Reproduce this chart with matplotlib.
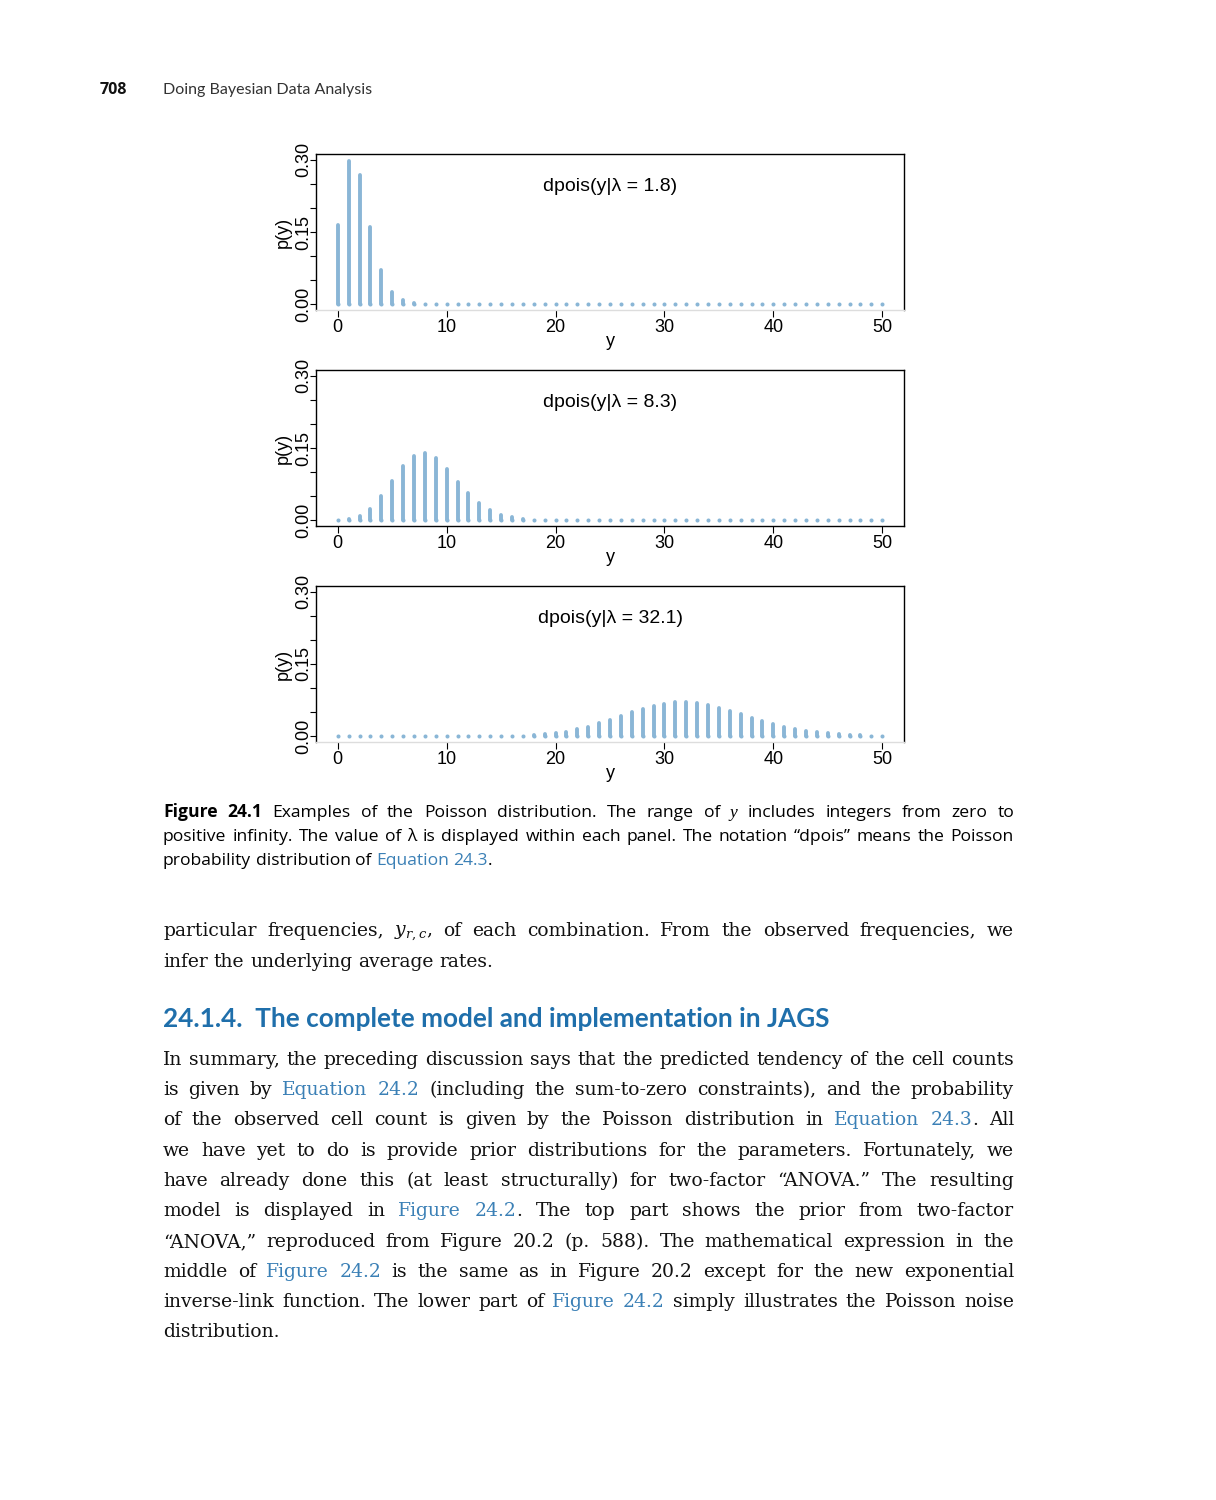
import numpy as np
import matplotlib
matplotlib.use("Agg")
from matplotlib import pyplot as plt

plt.rcParams['mathtext.fontset'] = 'dejavuserif'

W, H = 1216, 1500

# ---- data ----
y_vals = np.arange(0, 51)
lambdas = ["1.8", "8.3", "32.1"]

p_lam18 = [0.165, 0.298, 0.268, 0.161, 0.072, 0.026, 0.008, 0.002, 0.0005, 0.0001,
           0, 0, 0, 0, 0, 0, 0, 0, 0, 0,
           0, 0, 0, 0, 0, 0, 0, 0, 0, 0,
           0, 0, 0, 0, 0, 0, 0, 0, 0, 0,
           0, 0, 0, 0, 0, 0, 0, 0, 0, 0, 0]
p_lam83 = [0.0002, 0.0021, 0.0086, 0.0237, 0.0493, 0.0818, 0.1131, 0.1341, 0.1392, 0.1283,
           0.1065, 0.0804, 0.0556, 0.0355, 0.0210, 0.0116, 0.0060, 0.0030, 0.0014, 0.0006,
           0.0003, 0.0001, 0, 0, 0, 0, 0, 0, 0, 0,
           0, 0, 0, 0, 0, 0, 0, 0, 0, 0,
           0, 0, 0, 0, 0, 0, 0, 0, 0, 0, 0]
p_lam321 = [0, 0, 0, 0, 0, 0, 0, 0, 0, 0,
            0, 0, 0, 0.0001, 0.0002, 0.0003, 0.0007, 0.0013, 0.0023, 0.0040,
            0.0064, 0.0097, 0.0142, 0.0198, 0.0265, 0.0340, 0.0419, 0.0499, 0.0572, 0.0633,
            0.0677, 0.0701, 0.0703, 0.0684, 0.0646, 0.0592, 0.0528, 0.0458, 0.0387, 0.0319,
            0.0256, 0.0200, 0.0153, 0.0114, 0.0083, 0.0059, 0.0042, 0.0028, 0.0019, 0.0012, 0.0008]
probs = [p_lam18, p_lam83, p_lam321]

y_ticks = [0.0, 0.05, 0.10, 0.15, 0.20, 0.25, 0.30]
y_ticklabels = ["0.00", "", "", "0.15", "", "", "0.30"]
x_ticks = [0, 10, 20, 30, 40, 50]

# ---- page text ----
header_num = "708"
header_title = "Doing Bayesian Data Analysis"

caption_lines = [
    "#Figure 24.1# Examples of the Poisson distribution. The range of *y* includes integers from zero to",
    "positive infinity. The value of λ is displayed within each panel. The notation “dpois” means the Poisson",
    "probability distribution of [Equation 24.3].",
]
para1_lines = [
    "particular frequencies, $y_{r,c}$, of each combination. From the observed frequencies, we",
    "infer the underlying average rates.",
]
heading = "24.1.4.  The complete model and implementation in JAGS"
para2_lines = [
    "In summary, the preceding discussion says that the predicted tendency of the cell counts",
    "is given by [Equation 24.2] (including the sum-to-zero constraints), and the probability",
    "of the observed cell count is given by the Poisson distribution in [Equation 24.3]. All",
    "we have yet to do is provide prior distributions for the parameters. Fortunately, we",
    "have already done this (at least structurally) for two-factor “ANOVA.” The resulting",
    "model is displayed in [Figure 24.2]. The top part shows the prior from two-factor",
    "“ANOVA,” reproduced from Figure 20.2 (p. 588). The mathematical expression in the",
    "middle of [Figure 24.2] is the same as in Figure 20.2 except for the new exponential",
    "inverse-link function. The lower part of [Figure 24.2] simply illustrates the Poisson noise",
    "distribution.",
]

BAR = "#8ab6d6"
LINK = "#3b80b6"
HEAD = "#1f6fab"
CHART_FONT = ["Liberation Sans", "DejaVu Sans"]
CAP_FONT = ["Open Sans", "DejaVu Sans"]
HEAD_FONT = ["Lato", "DejaVu Sans"]
BODY_FONT = ["DejaVu Serif"]
ITAL_FONT = ["Liberation Serif", "DejaVu Serif"]

fig = plt.figure(figsize=(W / 100, H / 100), dpi=100)
fig.patch.set_facecolor("white")

# ---- the three Poisson panels ----
tops = [154, 370, 586]
for lam, p, top in zip(lambdas, probs, tops):
    ax = fig.add_axes([316 / W, 1 - (top + 156) / H, 588 / W, 156 / H])
    ax.vlines(y_vals, 0, p, color=BAR, lw=2.8, capstyle="round")
    ax.plot(y_vals, np.zeros(len(y_vals)), "o", color=BAR, ms=2.9, mew=0)
    ax.set_xlim(-2, 52)
    ax.set_ylim(-0.012, 0.312)
    ax.set_xticks(x_ticks)
    ax.set_xticklabels([str(v) for v in x_ticks], family=CHART_FONT, fontsize=13)
    ax.set_yticks(y_ticks)
    ax.set_yticklabels(y_ticklabels, family=CHART_FONT, fontsize=13,
                       rotation=90, va="center")
    ax.tick_params(axis="x", direction="out", length=5, width=0.8, pad=1.5)
    ax.tick_params(axis="y", direction="out", length=4, width=0.8, pad=-1.2)
    for s in ax.spines.values():
        s.set_linewidth(1.0)
        s.set_color("black")
    if lam != "8.3":
        ax.spines["bottom"].set_color("#dddddd")
    ax.set_xlabel("y", family=CHART_FONT, fontsize=13, va="center")
    ax.xaxis.set_label_coords(0.5, -0.205)
    ax.set_ylabel("p(y)", family=CHART_FONT, fontsize=13, va="center")
    ax.yaxis.set_label_coords(-0.056, 0.5)
    ax.text(25, 0.245, "dpois(y|λ = " + lam + ")", ha="center", va="center",
            family=CHART_FONT, fontsize=14)

# ---- text helpers ----
def parse(line):
    words, cur, buf = [], [], ""
    st = {"c": False, "i": False, "b": False}
    for ch in line + " ":
        if ch in "[]*# ":
            if buf:
                cur.append((buf, dict(st)))
                buf = ""
            if ch == " ":
                if cur:
                    words.append(cur)
                    cur = []
            elif ch in "[]":
                st["c"] = ch == "["
            elif ch == "*":
                st["i"] = not st["i"]
            else:
                st["b"] = not st["b"]
        else:
            buf += ch
    return words


renderer = fig.canvas.get_renderer()


def text_width(t):
    return t.get_window_extent(renderer).width


def space_width(kw):
    a = fig.text(0, 0, "x x", **kw)
    b = fig.text(0, 0, "xx", **kw)
    w = text_width(a) - text_width(b)
    a.remove()
    b.remove()
    return w


def block(lines, baselines, justify, kw, x0=163, x1=1014):
    sp = space_width(kw)
    for line, yb, jus in zip(lines, baselines, justify):
        objs = []
        for w in parse(line):
            wo = []
            for txt, st in w:
                k = dict(kw)
                if st["c"]:
                    k["color"] = LINK
                if st["i"]:
                    k["family"] = ITAL_FONT
                    k["style"] = "italic"
                if st["b"]:
                    k["weight"] = "bold"
                wo.append(fig.text(0, 1 - yb / H, txt, ha="left", va="baseline", **k))
            objs.append(wo)
        widths = [[text_width(t) for t in wo] for wo in objs]
        total = sum(sum(ws) for ws in widths)
        gap = (x1 - x0 - total) / (len(objs) - 1) if jus and len(objs) > 1 else sp
        x = x0
        for wo, ws in zip(objs, widths):
            for t, wd in zip(wo, ws):
                t.set_x(x / W)
                x += wd
            x += gap


# header
fig.text(100 / W, 1 - 94 / H, header_num, ha="left", va="baseline",
         family=CAP_FONT, fontsize=11.5, weight="bold", color="#111111")
fig.text(163 / W, 1 - 94 / H, header_title, ha="left", va="baseline",
         family=HEAD_FONT, fontsize=11.5, color="#333333")

# caption
block(caption_lines, [817, 841, 865], [True, True, False],
      dict(family=CAP_FONT, fontsize=12.6, color="#000000"))

# body paragraph 1
block(para1_lines, [936, 967], [True, False],
      dict(family=BODY_FONT, fontsize=13.5, color="#111111"))

# section heading
fig.text(163 / W, 1 - 1027 / H, heading, ha="left", va="baseline",
         family=HEAD_FONT, fontsize=18.8, weight="bold", color=HEAD)

# body paragraph 2
base2 = [1065, 1095, 1125, 1156, 1186, 1216, 1247, 1277, 1307, 1337]
block(para2_lines, base2, [True] * 9 + [False],
      dict(family=BODY_FONT, fontsize=13.5, color="#111111"))

fig.savefig("out.png", dpi=100, facecolor="white")
